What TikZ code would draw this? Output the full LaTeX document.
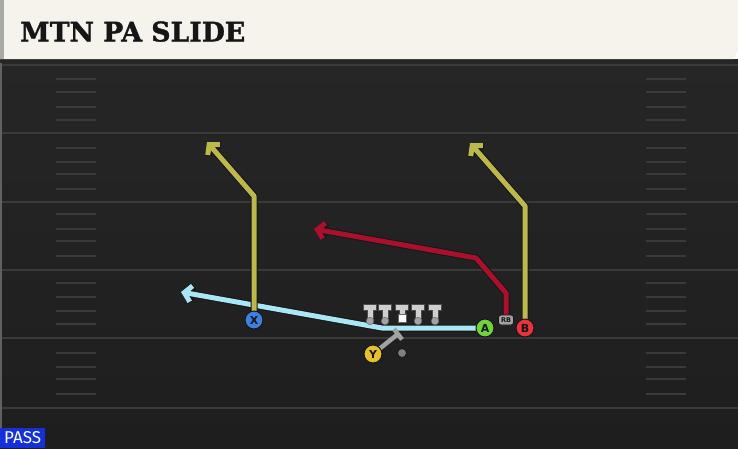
\documentclass[tikz,border=0pt]{standalone}
\usepackage{fontspec}
\usepackage{graphicx}
\usetikzlibrary{arrows.meta}
\newfontfamily\titlefont[BoldFeatures={FakeBold=1.5}]{DejaVu Serif}
\newfontfamily\passfont{Fira Sans}
\newfontfamily\plfont{DejaVu Sans}
\definecolor{fieldtop}{HTML}{262626}
\definecolor{fieldbot}{HTML}{1E1E1E}
\definecolor{yardc}{HTML}{3A3A3A}
\definecolor{cream}{HTML}{F5F3EC}
\definecolor{stripc}{HTML}{A9A9A6}
\definecolor{routey}{HTML}{BDB84C}
\definecolor{router}{HTML}{A8102C}
\definecolor{routeb}{HTML}{A9E6F6}
\definecolor{xblue}{HTML}{3F7FE0}
\definecolor{agreen}{HTML}{6FD43A}
\definecolor{bred}{HTML}{E8323C}
\definecolor{yyel}{HTML}{E8C02A}
\definecolor{olc}{HTML}{161616}
\definecolor{lgray}{HTML}{CFCFCF}
\definecolor{dgray}{HTML}{A2A2A2}
\definecolor{passblue}{HTML}{1330DA}
\pgfdeclarelayer{fieldlayer}
\pgfdeclarelayer{routelayer}
\pgfsetlayers{fieldlayer,routelayer,main}
\tikzset{
  yardline/.style={draw=yardc, line width=2pt},
  hashline/.style={draw=yardc, line width=1.5pt},
  routeout/.style={draw=olc, line width=7pt, line join=round,
    -{Straight Barb[length=7pt,width=16pt,line width=7pt]}},
  routein/.style={draw=#1, line width=5pt, line join=round,
    -{Straight Barb[length=7pt,width=16pt,line width=5pt]}},
  player/.style={circle, fill=#1, draw=olc, line width=1pt, minimum size=18pt,
    inner sep=0pt, text=olc, font=\plfont\bfseries\fontsize{11}{11}\selectfont},
  blockline/.style={draw=dgray, line width=4.5pt},
}
\begin{document}
\begin{tikzpicture}[x=1pt,y=-1pt]
\useasboundingbox (0,0) rectangle (738,448);
\begin{pgfonlayer}{fieldlayer}
  \shade[top color=fieldtop, bottom color=fieldbot] (0,59) rectangle (738,448);
  \fill[black!85] (0,59) rectangle (738,63);
  \fill[yardc!80] (0,63) rectangle (2,448);
  \foreach \y in {65,133,202,270,338,408}
    \draw[yardline] (2,\y) -- (738,\y);
  \foreach \y in {79,92,107,120,148,162,174,189,214,229,241,256,283,297,311,324,353,367,379,394}{
    \draw[hashline] (56,\y) -- (96,\y);
    \draw[hashline] (646,\y) -- (686,\y);
  }
  % title bar
  \fill[cream] (0,0) -- (738,0) -- (738,50) -- (734,59) -- (0,59) -- cycle;
  \fill[stripc] (0,0) rectangle (4,59);
\end{pgfonlayer}
\node[anchor=south west, inner sep=0pt, text=olc] (title) at (20,42)
  {\resizebox{225pt}{20pt}{\titlefont\bfseries MTN PA SLIDE}};

% players
\node[player=xblue] (X) at (254,320) {X};
\node[player=agreen] (A) at (485,328) {A};
\node[player=bred] (B) at (525,328) {B};
\node[player=yyel] (Y) at (373,354) {Y};
\node[circle, fill=gray, draw=olc, line width=0.8pt, minimum size=9pt, inner sep=0pt] (QB) at (402,353) {};
\node[fill=dgray, draw=olc, line width=0.8pt, rounded corners=2.5pt, minimum width=15pt, minimum height=10pt,
  inner sep=0pt, text=olc, font=\plfont\bfseries\fontsize{6.5}{6.5}\selectfont] (RB) at (506,320) {RB};

% linemen
\foreach \x in {370,385,402,418,435}{
  \fill[lgray, draw=black!70, line width=0.6pt] (\x-6.5,304.5) -- (\x+6.5,304.5) -- (\x+6.5,310) -- (\x+3,310) -- (\x+3,320) -- (\x-3,320) -- (\x-3,310) -- (\x-6.5,310) -- cycle;
}
\foreach \x in {370,385,418,435}{
  \fill[dgray, draw=black!60, line width=0.4pt] (\x,321) circle (3.8pt);
}
\fill[white, draw=black!60, line width=0.5pt] (398,314.5) rectangle (406,322.5);

% coordinates
\coordinate (xb) at (254,196);
\coordinate (xe) at (207,142);
\coordinate (bb) at (525,206);
\coordinate (be) at (470,143);
\coordinate (r1) at (506,293);
\coordinate (r2) at (476,258);
\coordinate (re) at (314,229);
\coordinate (ab) at (382,328);
\coordinate (ae) at (181,292);
\coordinate (yb) at (398,334);
\coordinate (yb1) at (394,329);
\coordinate (yb2) at (402,339.5);

\begin{pgfonlayer}{routelayer}
  \draw[routeout] (A.center) -- (ab) -- (ae);
  \draw[routein=routeb] (A.center) -- (ab) -- (ae);
  \draw[routeout] (X.center) -- (xb) -- (xe);
  \draw[routein=routey] (X.center) -- (xb) -- (xe);
  \draw[routeout] (B.center) -- (bb) -- (be);
  \draw[routein=routey] (B.center) -- (bb) -- (be);
  \draw[routeout] (RB.center) -- (r1) -- (r2) -- (re);
  \draw[routein=router] (RB.center) -- (r1) -- (r2) -- (re);
  \draw[blockline] (Y.center) -- (yb);
  \draw[blockline] (yb1) -- (yb2);
\end{pgfonlayer}

\node[fill=passblue, anchor=south west, minimum width=45pt, minimum height=20pt, inner sep=0pt,
  text=white] (pass) at (0,448) {\resizebox{37pt}{12pt}{\passfont PASS}};
\end{tikzpicture}
\end{document}
